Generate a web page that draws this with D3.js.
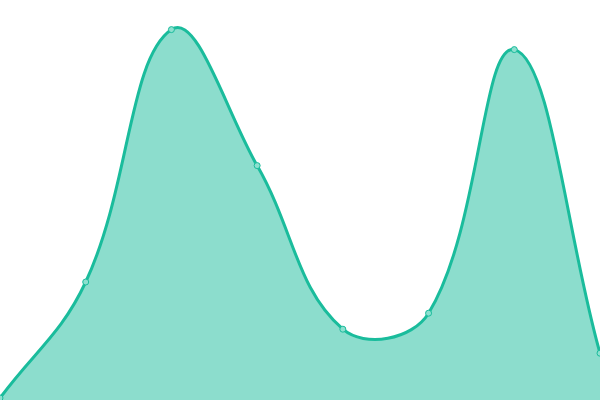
<!DOCTYPE html>
<html>
<head>
<meta charset="utf-8">
<script src="https://cdn.jsdelivr.net/npm/d3@7"></script>
<style>
  body { margin: 0; background: #fff; }
  svg { display: block; }
</style>
</head>
<body>
<svg id="chart" width="600" height="400"></svg>
<script>
var xIndex = [0, 1, 2, 3, 4, 5, 6, 7];
var values = [0.5, 29.5, 92.6, 58.6, 17.7, 21.7, 87.6, 11.7];

var width = 600, height = 400;
var svg = d3.select("#chart");

var x = d3.scaleLinear().domain([0, xIndex.length - 1]).range([0, width]);
var y = d3.scaleLinear().domain([0, 100]).range([height, 0]);

var data = xIndex.map(function (d, i) { return { x: d, y: values[i] }; });

// spline with tension 0.4, control points weighted by neighbour distance
function TensionSpline(context, tension) {
    this._context = context;
    this._t = tension;
}
TensionSpline.prototype = {
    areaStart: function () { this._line = 0; },
    areaEnd: function () { this._line = NaN; },
    lineStart: function () { this._pts = []; },
    point: function (px, py) { this._pts.push([+px, +py]); },
    lineEnd: function () {
        var p = this._pts, n = p.length, c = this._context, t = this._t;
        if (n) {
            var ctrl = p.map(function (cur, i) {
                var prev = p[Math.max(i - 1, 0)], next = p[Math.min(i + 1, n - 1)];
                var d01 = Math.hypot(cur[0] - prev[0], cur[1] - prev[1]);
                var d12 = Math.hypot(next[0] - cur[0], next[1] - cur[1]);
                var s01 = d01 / (d01 + d12), s12 = d12 / (d01 + d12);
                if (isNaN(s01)) s01 = 0;
                if (isNaN(s12)) s12 = 0;
                var fa = t * s01, fb = t * s12;
                var dx = next[0] - prev[0], dy = next[1] - prev[1];
                function cap(q) {
                    return [Math.max(0, Math.min(width, q[0])), Math.max(0, Math.min(height, q[1]))];
                }
                return {
                    before: cap([cur[0] - fa * dx, cur[1] - fa * dy]),
                    after: cap([cur[0] + fb * dx, cur[1] + fb * dy])
                };
            });
            if (this._line) c.lineTo(p[0][0], p[0][1]);
            else c.moveTo(p[0][0], p[0][1]);
            for (var i = 1; i < n; i++) {
                var a = ctrl[i - 1].after, b = ctrl[i].before;
                c.bezierCurveTo(a[0], a[1], b[0], b[1], p[i][0], p[i][1]);
            }
        }
        if (this._line || (this._line !== 0 && n === 1)) c.closePath();
        this._line = 1 - this._line;
    }
};
function curveTension(context) { return new TensionSpline(context, 0.4); }

var area = d3.area()
    .x(function (d) { return x(d.x); })
    .y0(height)
    .y1(function (d) { return y(d.y); })
    .curve(curveTension);

var line = d3.line()
    .x(function (d) { return x(d.x); })
    .y(function (d) { return y(d.y); })
    .curve(curveTension);

svg.append("path")
    .datum(data)
    .attr("d", area)
    .attr("fill", "#1abc9c")
    .attr("fill-opacity", 0.5);

svg.append("path")
    .datum(data)
    .attr("d", line)
    .attr("fill", "none")
    .attr("stroke", "#1abc9c")
    .attr("stroke-width", 3);

svg.selectAll(".dot")
    .data(data)
    .enter().append("circle")
    .attr("class", "dot")
    .attr("cx", function (d) { return x(d.x); })
    .attr("cy", function (d) { return y(d.y); })
    .attr("r", 3)
    .attr("fill", "#8ce0cf")
    .attr("stroke", "#1abc9c")
    .attr("stroke-width", 1);
</script>
</body>
</html>
